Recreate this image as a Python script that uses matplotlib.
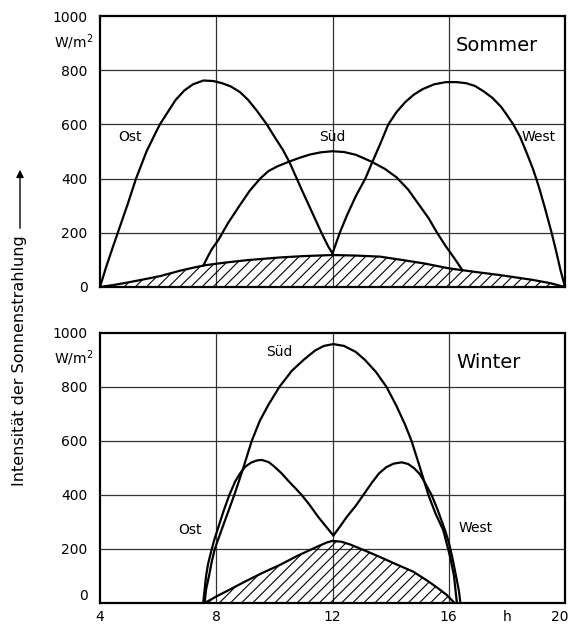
import numpy as np
import matplotlib
matplotlib.use('Agg')
import matplotlib.pyplot as plt
import matplotlib.transforms as mtransforms
from matplotlib.patches import FancyArrowPatch

plt.rcParams['font.family'] = ['DejaVu Sans']
plt.rcParams['hatch.linewidth'] = 0.8

# Sommer (hours, W/m2)
s_ost_x = [4.0, 4.2, 4.45, 4.66, 4.95, 5.24, 5.6, 5.85, 6.06, 6.3, 6.6, 6.9, 7.2, 7.56, 7.9, 8.2,
           8.5, 8.82, 9.1, 9.4, 9.74, 10.0, 10.3, 10.54, 10.77, 11.0, 11.3, 11.62, 11.85, 12.0]
s_ost_y = [0, 70, 150, 215, 305, 400, 500, 555, 600, 640, 690, 725, 748, 762, 760, 752,
           740, 719, 690, 650, 600, 555, 505, 456, 400, 345, 275, 200, 150, 124]
s_sued_x = [7.56, 7.7, 7.85, 8.07, 8.4, 8.8, 9.15, 9.51, 9.8, 10.1, 10.54, 10.9, 11.23, 11.6, 12.0,
            12.4, 12.8, 13.1, 13.35, 13.8, 14.2, 14.6, 15.0, 15.3, 15.6, 15.9, 16.2, 16.47]
s_sued_y = [80, 110, 140, 173, 235, 300, 355, 400, 428, 445, 464, 478, 489, 497, 501,
            498, 488, 474, 462, 436, 405, 360, 300, 255, 200, 150, 105, 62]
s_west_x = [12.0, 12.25, 12.5, 12.8, 13.13, 13.35, 13.65, 13.92, 14.2, 14.5, 14.8, 15.1, 15.5, 15.9,
            16.27, 16.6, 16.9, 17.2, 17.5, 17.8, 18.0, 18.22, 18.45, 18.7, 18.9, 19.1, 19.3, 19.54,
            19.7, 19.85, 20.0]
s_west_y = [124, 200, 265, 335, 400, 456, 530, 600, 645, 682, 710, 730, 748, 756,
            756, 752, 742, 722, 698, 665, 635, 600, 555, 490, 435, 370, 295, 200,
            130, 60, 0]
s_diff_x = [4.0, 4.5, 4.92, 5.5, 6.06, 6.75, 7.2, 7.6, 8.3, 9.05, 10.19, 11.0, 12.0, 12.8, 13.64,
            14.5, 15.2, 16.0, 16.47, 17.1, 17.76, 18.9, 19.5, 20.0]
s_diff_y = [0, 8, 16, 28, 40, 60, 71, 80, 90, 99, 109, 114, 118, 116, 112,
            98, 86, 69, 62, 53, 44, 26, 14, 0]

# Winter
w_sued_x = [7.6, 7.65, 7.75, 7.85, 7.95, 8.18, 8.4, 8.62, 8.9, 9.22, 9.5, 9.8, 10.17, 10.6, 11.0,
            11.4, 11.7, 12.03, 12.4, 12.8, 13.12, 13.5, 13.86, 14.2, 14.5, 14.72, 15.0, 15.3,
            15.55, 15.81, 16.05, 16.18, 16.28]
w_sued_y = [0, 50, 100, 155, 200, 270, 335, 400, 490, 600, 675, 735, 800, 860, 900,
            935, 952, 959, 952, 930, 900, 855, 800, 730, 660, 600, 505, 400,
            330, 270, 170, 100, 0]
w_ost_x = [7.55, 7.6, 7.65, 7.72, 7.8, 7.92, 8.04, 8.25, 8.45, 8.65, 8.82, 9.0, 9.2, 9.4, 9.56,
           9.8, 10.0, 10.25, 10.5, 10.75, 10.94, 11.2, 11.5, 11.8, 12.03]
w_ost_y = [0, 50, 100, 145, 180, 230, 270, 340, 400, 450, 480, 505, 520, 528, 530,
           522, 505, 480, 450, 422, 400, 365, 320, 280, 250]
w_west_x = [12.03, 12.25, 12.5, 12.8, 13.06, 13.35, 13.6, 13.85, 14.1, 14.38, 14.6, 14.8, 15.0,
            15.13, 15.41, 15.6, 15.87, 16.0, 16.12, 16.25, 16.35, 16.4]
w_west_y = [250, 282, 320, 360, 400, 445, 480, 503, 516, 521, 515, 500, 478,
            455, 400, 350, 270, 225, 170, 100, 45, 0]
w_diff_x = [7.6, 8.0, 8.47, 9.0, 9.6, 10.19, 10.8, 11.5, 11.8, 12.0, 12.3, 12.6, 13.1, 13.64,
            14.2, 14.78, 15.3, 15.6, 15.93, 16.2]
w_diff_y = [0, 24, 50, 80, 112, 141, 175, 210, 224, 230, 227, 217, 195, 170,
            143, 116, 80, 57, 30, 0]

y_ticks = [0, 200, 400, 600, 800, 1000]
x_ticks = [4, 8, 12, 16, 18, 20]
x_labels = ['4', '8', '12', '16', 'h', '20']

W, H = 571, 626
fig = plt.figure(figsize=(W / 100, H / 100), dpi=100)

def px_axes(left, top, right, bottom):
    return fig.add_axes([left / W, 1 - bottom / H, (right - left) / W, (bottom - top) / H])

ax1 = px_axes(100, 16, 565, 287)
ax2 = px_axes(100, 333, 565, 603)

def setup(ax, show_x):
    ax.set_xlim(4, 20)
    ax.set_ylim(0, 1000)
    for v in [8, 12, 16]:
        ax.axvline(v, color='#333333', lw=0.9, zorder=1)
    for v in [200, 400, 600, 800]:
        ax.axhline(v, color='#333333', lw=0.9, zorder=1)
    for sp in ax.spines.values():
        sp.set_linewidth(1.6)
    ax.set_yticks(y_ticks)
    ax.set_yticklabels([str(t) for t in y_ticks])
    ax.tick_params(axis='y', length=0, pad=9, labelsize=10)
    if show_x:
        ax.set_xticks(x_ticks)
        ax.set_xticklabels(x_labels)
        ax.tick_params(axis='x', length=0, pad=5, labelsize=10)
    else:
        ax.set_xticks([])
    tr = mtransforms.blended_transform_factory(ax.transAxes, ax.transData)
    ax.text(-0.014, 905, 'W/m$^2$', transform=tr, ha='right', va='center', fontsize=10)

def draw(ax, curves, diff_x, diff_y):
    ax.fill_between(diff_x, 0, diff_y, facecolor='none', edgecolor='black', hatch='///', linewidth=0, zorder=2)
    ax.plot(diff_x, diff_y, color='black', lw=1.6, zorder=3)
    for cx, cy in curves:
        ax.plot(cx, cy, color='black', lw=1.6, zorder=3, solid_joinstyle='round')

setup(ax1, False)
setup(ax2, True)
draw(ax1, [(s_ost_x, s_ost_y), (s_sued_x, s_sued_y), (s_west_x, s_west_y)], s_diff_x, s_diff_y)
draw(ax2, [(w_ost_x, w_ost_y), (w_sued_x, w_sued_y), (w_west_x, w_west_y)], w_diff_x, w_diff_y)

# raise the "0" of the lower panel a bit, as in the original
ax2.get_yticklabels()[0].set_va('bottom')
# keep "20" inside the picture
lab20 = ax2.get_xticklabels()[-1]
lab20.set_transform(lab20.get_transform() + mtransforms.ScaledTranslation(-5 / 100, 0, fig.dpi_scale_trans))

ax1.text(16.25, 890, 'Sommer', fontsize=14, ha='left', va='center')
ax1.text(4.62, 552, 'Ost', fontsize=10, ha='left', va='center')
ax1.text(12.0, 552, 'Süd', fontsize=10, ha='center', va='center')
ax1.text(19.1, 552, 'West', fontsize=10, ha='center', va='center')

ax2.text(16.25, 889, 'Winter', fontsize=14, ha='left', va='center')
ax2.text(10.16, 931, 'Süd', fontsize=10, ha='center', va='center')
ax2.text(7.1, 270, 'Ost', fontsize=10, ha='center', va='center')
ax2.text(16.94, 278, 'West', fontsize=10, ha='center', va='center')

fig.text(20 / W, 1 - 361 / H, 'Intensität der Sonnenstrahlung', rotation=90,
         ha='center', va='center', fontsize=11.5)
fig.add_artist(FancyArrowPatch(
    (20 / W, 1 - 231 / H), (20 / W, 1 - 167 / H), transform=fig.transFigure,
    arrowstyle='-|>', mutation_scale=11, lw=1.0, color='black'))

fig.savefig('out.png', dpi=100)
